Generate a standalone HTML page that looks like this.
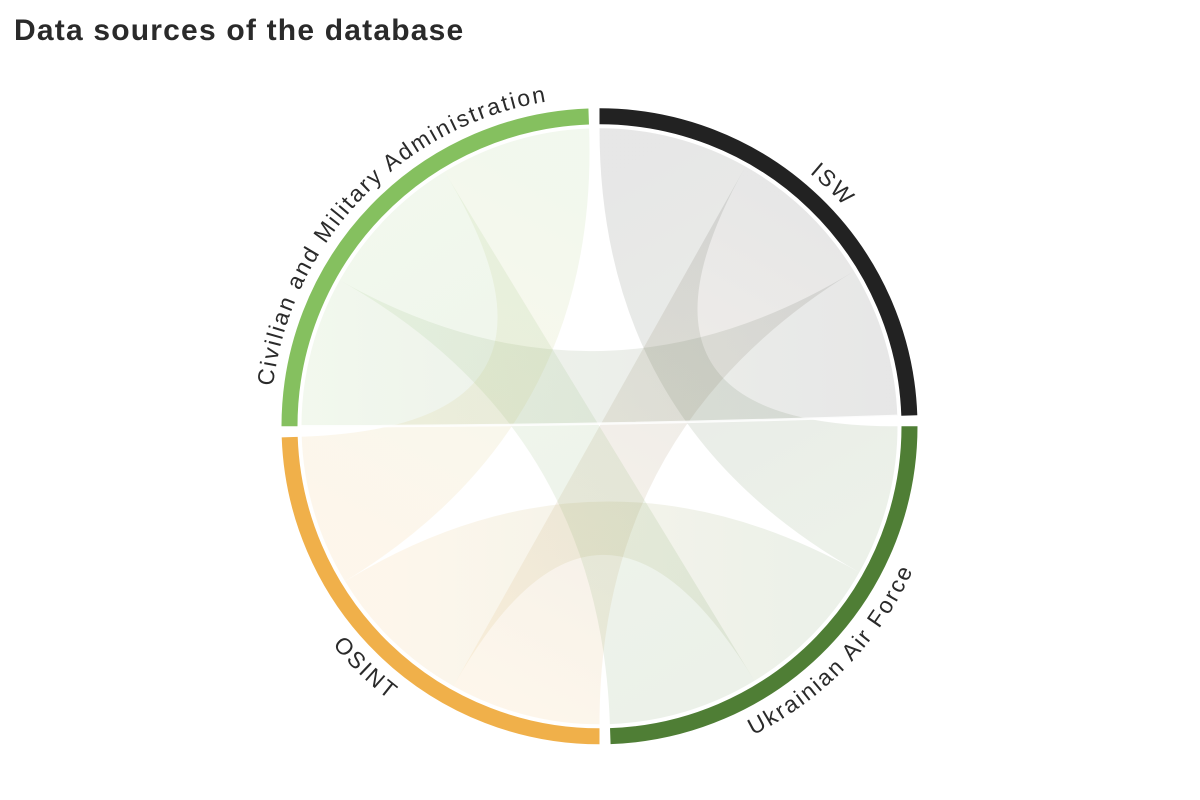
<!DOCTYPE html>
<html>
<head>
<meta charset="utf-8">
<style>
  html,body{margin:0;padding:0;background:#ffffff;}
  body{width:1200px;height:800px;overflow:hidden;position:relative;}
  .title{position:absolute;left:14px;top:11px;font-family:"Liberation Sans",sans-serif;font-weight:bold;font-size:30px;letter-spacing:1.2px;color:#2a2a2a;white-space:nowrap;line-height:40px;}
  svg{position:absolute;left:0;top:0;}
  .lbl{font-family:"Liberation Sans",sans-serif;font-size:23px;letter-spacing:2.1px;fill:#2a2a2a;}
</style>
</head>
<body>
<div class="title">Data sources of the database</div>
<svg width="1200" height="800" viewBox="0 0 1200 800" xmlns="http://www.w3.org/2000/svg">
  <defs>
    <linearGradient id="g1" gradientUnits="userSpaceOnUse" x1="675.0" y1="138.0" x2="887.8" y2="501.8">
      <stop offset="0" stop-color="#222222"/><stop offset="1" stop-color="#4f7e35"/>
    </linearGradient>
    <linearGradient id="g2" gradientUnits="userSpaceOnUse" x1="806.5" y1="212.0" x2="524.0" y2="714.6">
      <stop offset="0" stop-color="#222222"/><stop offset="1" stop-color="#f0b04a"/>
    </linearGradient>
    <linearGradient id="g3" gradientUnits="userSpaceOnUse" x1="885.0" y1="340.8" x2="311.2" y2="350.8">
      <stop offset="0" stop-color="#222222"/><stop offset="1" stop-color="#85c05f"/>
    </linearGradient>
    <linearGradient id="g4" gradientUnits="userSpaceOnUse" x1="813.9" y1="633.3" x2="392.5" y2="640.6">
      <stop offset="0" stop-color="#4f7e35"/><stop offset="1" stop-color="#f0b04a"/>
    </linearGradient>
    <linearGradient id="g5" gradientUnits="userSpaceOnUse" x1="685.0" y1="711.8" x2="385.1" y2="219.3">
      <stop offset="0" stop-color="#4f7e35"/><stop offset="1" stop-color="#85c05f"/>
    </linearGradient>
    <linearGradient id="g6" gradientUnits="userSpaceOnUse" x1="314.0" y1="511.8" x2="514.0" y2="140.8">
      <stop offset="0" stop-color="#f0b04a"/><stop offset="1" stop-color="#85c05f"/>
    </linearGradient>
    <path id="tpCMA" d="M270.5,426.3 A329,329 0 0 1 588.0,97.5"/>
    <path id="tpISW" d="M599.5,97.3 A329,329 0 0 1 928.3,414.8"/>
    <path id="tpUAF" d="M611.5,771.1 A345,345 0 0 0 944.5,426.3"/>
    <path id="tpOSI" d="M254.7,438.3 A345,345 0 0 0 599.5,771.3"/>
  </defs>

  <!-- ribbons -->
  <g fill-opacity="0.108">
    <path fill="url(#g1)" d="M599.5,128.3 A298,298 0 0 1 745.5,166.5 Q599.5,426.3 897.5,426.3 A298,298 0 0 1 859.3,572.3 Q599.5,426.3 599.5,128.3Z"/>
    <path fill="url(#g2)" d="M745.5,166.5 A298,298 0 0 1 854.0,271.3 Q599.5,426.3 599.5,724.3 A298,298 0 0 1 453.5,686.1 Q599.5,426.3 745.5,166.5Z"/>
    <path fill="url(#g3)" d="M854.0,271.3 A298,298 0 0 1 897.3,415.9 Q599.5,426.3 301.5,426.3 A298,298 0 0 1 339.7,280.3 Q599.5,426.3 854.0,271.3Z"/>
    <path fill="url(#g4)" d="M859.3,572.3 A298,298 0 0 1 754.5,680.8 Q599.5,426.3 453.5,686.1 A298,298 0 0 1 345.0,581.3 Q599.5,426.3 859.3,572.3Z"/>
    <path fill="url(#g5)" d="M754.5,680.8 A298,298 0 0 1 609.9,724.1 Q599.5,426.3 339.7,280.3 A298,298 0 0 1 444.5,171.8 Q599.5,426.3 754.5,680.8Z"/>
    <path fill="url(#g6)" d="M345.0,581.3 A298,298 0 0 1 301.7,436.7 Q599.5,426.3 444.5,171.8 A298,298 0 0 1 589.1,128.5 Q599.5,426.3 345.0,581.3Z"/>
  </g>
  <path d="M897.3,415.9 Q599.5,426.3 301.5,426.3" fill="none" stroke="#ffffff" stroke-width="2.5" stroke-opacity="0.85"/>

  <!-- group rings -->
  <g fill="none" stroke-width="16" stroke-linecap="butt">
    <path stroke="#222222" d="M599.5,116.3 A310,310 0 0 1 909.3,415.5"/>
    <path stroke="#4f7e35" d="M909.5,426.3 A310,310 0 0 1 610.3,736.1"/>
    <path stroke="#f0b04a" d="M599.5,736.3 A310,310 0 0 1 289.7,437.1"/>
    <path stroke="#85c05f" d="M289.5,426.3 A310,310 0 0 1 588.7,116.5"/>
  </g>

  <!-- labels -->
  <text class="lbl"><textPath href="#tpCMA" startOffset="50%" text-anchor="middle">Civilian and Military Administration</textPath></text>
  <text class="lbl"><textPath href="#tpISW" startOffset="50%" text-anchor="middle">ISW</textPath></text>
  <text class="lbl"><textPath href="#tpUAF" startOffset="50%" text-anchor="middle">Ukrainian Air Force</textPath></text>
  <text class="lbl"><textPath href="#tpOSI" startOffset="50%" text-anchor="middle">OSINT</textPath></text>
</svg>
</body>
</html>
